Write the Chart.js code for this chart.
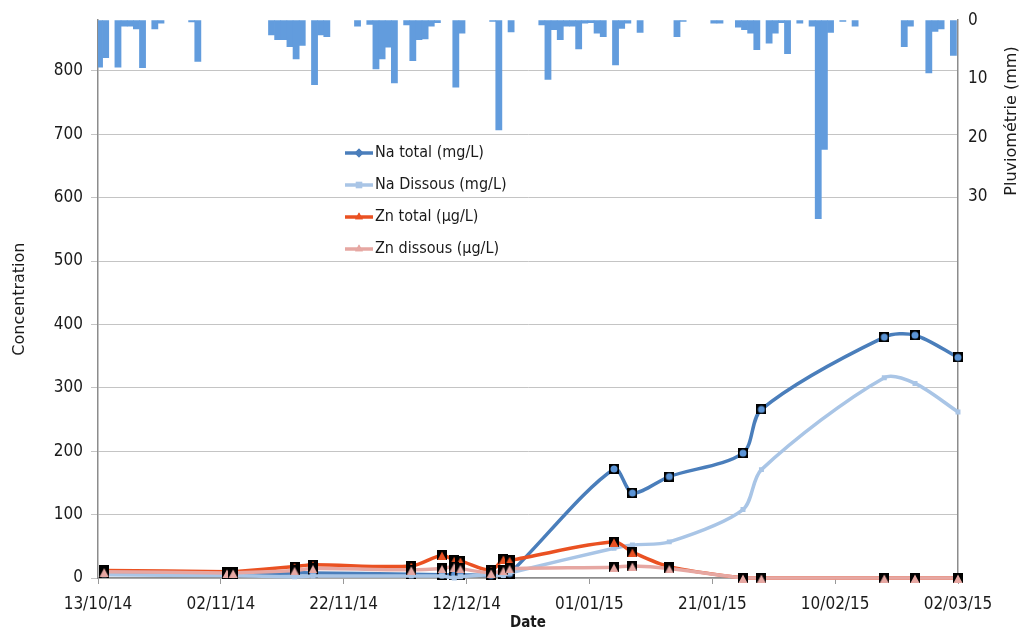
<!DOCTYPE html>
<html>
<head>
<meta charset="utf-8">
<script src="https://cdn.jsdelivr.net/npm/chart.js@4.4.1/dist/chart.umd.min.js"></script>
<style>
body { margin: 0; background: #fff; }
#wrap { width: 1024px; height: 632px; }
</style>
</head>
<body>
<div id="wrap"><canvas id="chart" width="1024" height="632"></canvas></div>
<script>
const FONT = "'DejaVu Sans Condensed', 'DejaVu Sans', sans-serif"
const TITLE_FONT = "'DejaVu Sans', sans-serif"
const TEXT = '#1a1a1a'

// sampling dates (dd/mm/yy)
const sampleDates = ['14/10/14', '03/11/14', '04/11/14', '14/11/14', '17/11/14', '03/12/14', '08/12/14', '10/12/14', '11/12/14',
	'16/12/14', '18/12/14', '19/12/14', '05/01/15', '08/01/15', '14/01/15', '26/01/15', '29/01/15', '18/02/15', '23/02/15', '02/03/15']
const naTotal = [8, 6, 6, 8, 8, 6, 5, 5, 5, 4, 6, 7, 172, 134, 160, 197, 266, 380, 383, 348]
const naDissous = [5, 4, 4, 2, 3, 3, 3, 0, 2, 5, 4, 8, 47, 52, 57, 108, 171, 316, 307, 262]
const znTotal = [12, 10, 10, 18, 21, 19, 36, 28, 27, 12, 30, 28, 57, 41, 18, 0, 0, 0, 0, 0]
const znDissous = [10, 8, 8, 12, 15, 13, 15, 18, 15, 8, 12, 15, 17, 19, 15, 0, 0, 0, 0, 0]

// daily rainfall (mm) from 13/10/14 to 02/03/15
const rain = [
	8.0, 6.4, 0, 8.0, 1.0, 1.0, 1.5, 8.1, 0, 1.5,
	0.5, 0, 0, 0, 0, 0.3, 7.0, 0, 0, 0,
	0, 0, 0, 0, 0, 0, 0, 0, 2.5, 3.3,
	3.3, 4.5, 6.6, 4.3, 0, 11.0, 2.5, 2.8, 0, 0,
	0, 0, 1.0, 0, 0.7, 8.3, 6.6, 4.6, 10.7, 0,
	0.8, 6.9, 3.3, 3.2, 1.0, 0.4, 0, 0, 11.4, 2.2,
	0, 0, 0, 0, 0.2, 18.7, 0, 2.0, 0, 0,
	0, 0, 0.8, 10.1, 1.6, 3.3, 1.0, 1.0, 4.9, 0.5,
	0.4, 2.2, 2.8, 0, 7.6, 1.4, 0.5, 0, 2.1, 0,
	0, 0, 0, 0, 2.8, 0.2, 0, 0, 0, 0,
	0.5, 0.5, 0, 0, 1.2, 1.6, 2.2, 5.0, 0, 3.9,
	2.2, 0.4, 5.7, 0, 0.5, 0, 1.0, 33.8, 22.0, 2.1,
	0, 0.2, 0, 1.0, 0, 0, 0, 0, 0, 0,
	0, 4.5, 1.0, 0, 0, 9.0, 1.9, 1.5, 0, 6.0,
	0
]

const START = Date.UTC(2014, 9, 13)
const DAY = 86400000

function dayIndex(str) {
	const [d, m, y] = str.split('/').map(Number)
	return (Date.UTC(2000 + y, m - 1, d) - START) / DAY
}

function dayLabel(n) {
	const dt = new Date(START + n * DAY)
	const pad = v => String(v).padStart(2, '0')
	return pad(dt.getUTCDate()) + '/' + pad(dt.getUTCMonth() + 1) + '/' + String(dt.getUTCFullYear()).slice(2)
}

function boxMarker(color, shape) {
	const size = 10
	const c = document.createElement('canvas')
	c.width = size
	c.height = size
	const g = c.getContext('2d')
	g.fillStyle = '#000'
	g.fillRect(0, 0, size, size)
	g.fillStyle = color
	g.beginPath()
	if (shape === 'tri') {
		g.moveTo(size / 2, 1.5)
		g.lineTo(size - 0.5, size)
		g.lineTo(0.5, size)
	} else {
		g.arc(size / 2, size / 2, size / 2 - 1.5, 0, Math.PI * 2)
	}
	g.closePath()
	g.fill()
	return c
}

function series(values) {
	return sampleDates.map((d, i) => ({x: dayIndex(d), y: values[i]}))
}

const series4 = [
	{label: 'Na total (mg/L)', color: '#4a7ebb', values: naTotal, marker: boxMarker('#5b94d6', 'dot'), legendShape: 'rectRot', order: 4},
	{label: 'Na Dissous (mg/L)', color: '#a9c5e6', values: naDissous, marker: 'rect', legendShape: 'rect', order: 3},
	{label: 'Zn total (µg/L)', color: '#ea5122', values: znTotal, marker: boxMarker('#ea5122', 'tri'), legendShape: 'triangle', order: 2},
	{label: 'Zn dissous (µg/L)', color: '#e6a7a2', values: znDissous, marker: boxMarker('#e6a7a2', 'tri'), legendShape: 'triangle', order: 1}
]

const lineSets = series4.map(s => ({
	type: 'line',
	label: s.label,
	data: series(s.values),
	borderColor: s.color,
	backgroundColor: s.color,
	borderWidth: 3.5,
	tension: 0.3,
	pointStyle: s.marker,
	pointRadius: s.marker === 'rect' ? 3.5 : 5,
	pointBorderWidth: 0,
	clip: {left: 8, top: 0, right: 8, bottom: 8},
	yAxisID: 'y',
	order: s.order
}))

// each day's bar starts just after its date tick; dry days draw nothing
const rainSet = {
	type: 'bar',
	label: 'Pluviométrie',
	data: rain.map((v, i) => ({x: i + 0.25, y: v || null})),
	backgroundColor: '#629cdd',
	borderWidth: 0,
	barPercentage: 1,
	categoryPercentage: 1,
	yAxisID: 'y2',
	order: 10
}

const legendBox = {
	id: 'legendBox',
	afterDatasetsDraw(chart) {
		const ctx = chart.ctx
		const x0 = 345, x1 = 373, rows = [153, 185, 217, 249]
		ctx.save()
		series4.forEach((s, i) => {
			const y = rows[i]
			ctx.strokeStyle = s.color
			ctx.lineWidth = 3.5
			ctx.beginPath()
			ctx.moveTo(x0, y)
			ctx.lineTo(x1, y)
			ctx.stroke()
			ctx.fillStyle = s.color
			ctx.beginPath()
			Chart.helpers.drawPoint(ctx, {pointStyle: s.legendShape, radius: 4.5, borderWidth: 0, rotation: 0}, (x0 + x1) / 2, y)
			ctx.fill()
			ctx.fillStyle = TEXT
			ctx.font = '16px ' + FONT
			ctx.textAlign = 'left'
			ctx.textBaseline = 'middle'
			ctx.fillText(s.label, x1 + 2, y)
		})
		ctx.restore()
	},
	afterDraw(chart) {
		const ctx = chart.ctx
		ctx.save()
		ctx.translate(1012, 121)
		ctx.rotate(-Math.PI / 2)
		ctx.fillStyle = TEXT
		ctx.font = '16px ' + TITLE_FONT
		ctx.textAlign = 'center'
		ctx.textBaseline = 'middle'
		ctx.fillText('Pluviométrie (mm)', 0, 0)
		ctx.restore()
	}
}

const tickFont = {family: FONT, size: 17}

new Chart(document.getElementById('chart').getContext('2d'), {
	data: {datasets: [...lineSets, rainSet]},
	options: {
		responsive: false,
		animation: false,
		layout: {padding: {top: 17, left: 0, right: 0, bottom: 0}},
		plugins: {legend: {display: false}, tooltip: {enabled: false}},
		scales: {
			x: {
				type: 'linear',
				offset: false,
				min: 0,
				max: 140,
				afterFit: s => { s.height = 54 },
				ticks: {stepSize: 20, callback: v => dayLabel(v), font: tickFont, color: TEXT, padding: 10, maxRotation: 0, autoSkip: false},
				grid: {offset: false, drawOnChartArea: false, tickLength: 6, color: '#999'},
				border: {color: '#8c8c8c', width: 1.5},
				title: {display: true, text: 'Date', font: {family: FONT, size: 15, weight: 'bold'}, color: TEXT, padding: {top: 0, bottom: 0}}
			},
			y: {
				position: 'left',
				min: 0,
				max: 880,
				afterBuildTicks: s => { s.ticks = s.ticks.filter(t => t.value <= 800) },
				afterFit: s => { s.width = 98 },
				ticks: {stepSize: 100, font: tickFont, color: TEXT, padding: 8},
				grid: {color: '#c4c4c4', tickLength: 7},
				border: {color: '#8c8c8c', width: 1.5},
				title: {display: true, text: 'Concentration', font: {family: TITLE_FONT, size: 16}, color: TEXT, padding: {top: 10, bottom: 0}}
			},
			y2: {
				position: 'right',
				reverse: true,
				min: 0,
				max: 95,
				afterBuildTicks: s => { s.ticks = [0, 10, 20, 30].map(v => ({value: v})) },
				afterFit: s => { s.width = 66 },
				ticks: {font: tickFont, color: TEXT, padding: 10},
				grid: {display: false, drawTicks: false},
				border: {display: true, color: '#8c8c8c', width: 1.5}
			}
		}
	},
	plugins: [legendBox]
})
</script>
</body>
</html>
